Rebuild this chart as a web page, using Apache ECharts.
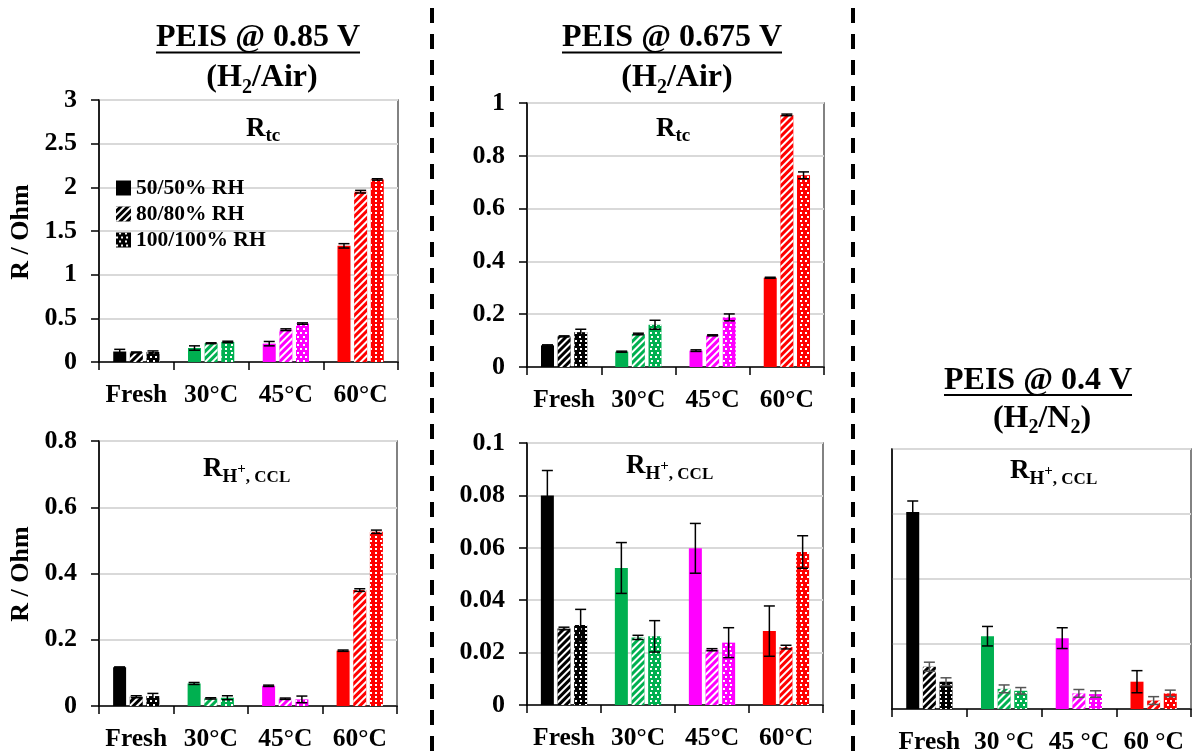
<!DOCTYPE html>
<html>
<head>
<meta charset="utf-8">
<script src="https://cdn.jsdelivr.net/npm/echarts@6/dist/echarts.min.js"></script>
<style>
html,body{margin:0;padding:0;background:#fff;}
#c{width:1192px;height:755px;}
</style>
</head>
<body>
<div id="c"></div>
<script>
// ---------- DATA ----------
const categories = ['Fresh', '30°C', '45°C', '60°C'];
const categoriesN2 = ['Fresh', '30 °C', '45 °C', '60 °C'];
const seriesNames = ['50/50% RH', '80/80% RH', '100/100% RH'];

// PEIS @ 0.85 V, R_tc
const rtc085_50 = [0.12, 0.16, 0.21, 1.33];
const rtc085_50_err = [0.025, 0.025, 0.025, 0.025];
const rtc085_80 = [0.11, 0.215, 0.37, 1.95];
const rtc085_80_err = [0.005, 0.005, 0.01, 0.015];
const rtc085_100 = [0.115, 0.23, 0.44, 2.09];
const rtc085_100_err = [0.012, 0.008, 0.008, 0.008];

// PEIS @ 0.675 V, R_tc
const rtc0675_50 = [0.082, 0.058, 0.062, 0.338];
const rtc0675_50_err = [0.002, 0.002, 0.003, 0.002];
const rtc0675_80 = [0.116, 0.125, 0.12, 0.955];
const rtc0675_80_err = [0.002, 0.003, 0.002, 0.003];
const rtc0675_100 = [0.132, 0.16, 0.188, 0.726];
const rtc0675_100_err = [0.011, 0.017, 0.013, 0.013];

// PEIS @ 0.85 V, R_H+,CCL
const rh085_50 = [0.117, 0.068, 0.061, 0.167];
const rh085_50_err = [0.001, 0.003, 0.002, 0.002];
const rh085_80 = [0.028, 0.023, 0.022, 0.35];
const rh085_80_err = [0.003, 0.002, 0.002, 0.004];
const rh085_100 = [0.03, 0.025, 0.02, 0.526];
const rh085_100_err = [0.008, 0.006, 0.01, 0.005];

// PEIS @ 0.675 V, R_H+,CCL
const rh0675_50 = [0.080, 0.0523, 0.0598, 0.0282];
const rh0675_50_err = [0.0095, 0.0097, 0.0095, 0.0096];
const rh0675_80 = [0.0292, 0.0258, 0.0211, 0.0221];
const rh0675_80_err = [0.0005, 0.0008, 0.0004, 0.0007];
const rh0675_100 = [0.0305, 0.0262, 0.0238, 0.0584];
const rh0675_100_err = [0.006, 0.006, 0.0057, 0.0062];

// PEIS @ 0.4 V (H2/N2), R_H+,CCL (unlabelled axis, gridline units)
const rh04_50 = [3.03, 1.12, 1.09, 0.42];
const rh04_50_err = [0.17, 0.15, 0.16, 0.17];
const rh04_80 = [0.65, 0.31, 0.24, 0.13];
const rh04_80_err = [0.07, 0.06, 0.06, 0.06];
const rh04_100 = [0.42, 0.28, 0.23, 0.24];
const rh04_100_err = [0.06, 0.05, 0.05, 0.05];

// ---------- STYLE ----------
const FONT = '"Liberation Serif", "Times New Roman", serif';
const catColors = ['#000000', '#00B050', '#FF00FF', '#FF0000'];
const BAR_W = 13, BAR_GAP = 0.28, STRIDE = BAR_W * (1 + BAR_GAP);
const decals = [
  null,
  {symbol: 'rect', symbolSize: 1, dashArrayX: [1, 0], dashArrayY: [2, 2.5], rotation: -Math.PI / 4, color: '#ffffff'},
  {symbol: 'rect', symbolSize: 1, dashArrayX: [[1.8, 2.7], [0, 2.25, 1.8, 0.45]], dashArrayY: [1.8, 1.6], color: '#ffffff'}
];

const panels = [
  {grid: {left: 99, top: 100, width: 299, height: 262}, max: 3, interval: 0.5, cats: categories, labels: true,
   vals: [rtc085_50, rtc085_80, rtc085_100], errs: [rtc085_50_err, rtc085_80_err, rtc085_100_err], errColors: ['#000', '#000', '#000']},
  {grid: {left: 527, top: 103, width: 297, height: 264}, max: 1, interval: 0.2, cats: categories, labels: true,
   vals: [rtc0675_50, rtc0675_80, rtc0675_100], errs: [rtc0675_50_err, rtc0675_80_err, rtc0675_100_err], errColors: ['#000', '#000', '#000']},
  {grid: {left: 99, top: 441, width: 298, height: 265}, max: 0.8, interval: 0.2, cats: categories, labels: true,
   vals: [rh085_50, rh085_80, rh085_100], errs: [rh085_50_err, rh085_80_err, rh085_100_err], errColors: ['#000', '#000', '#000']},
  {grid: {left: 527, top: 443, width: 296, height: 262}, max: 0.1, interval: 0.02, cats: categories, labels: true,
   vals: [rh0675_50, rh0675_80, rh0675_100], errs: [rh0675_50_err, rh0675_80_err, rh0675_100_err], errColors: ['#000', '#000', '#000']},
  {grid: {left: 892, top: 449, width: 299, height: 261}, max: 4, interval: 1, cats: categoriesN2, labels: false,
   vals: [rh04_50, rh04_80, rh04_100], errs: [rh04_50_err, rh04_80_err, rh04_100_err], errColors: ['#000', '#555', '#555']}
];

const grids = [], xAxes = [], yAxes = [], series = [];
panels.forEach((p, i) => {
  grids.push(Object.assign({show: true, borderColor: '#595959', borderWidth: 1.5, backgroundColor: 'transparent'}, p.grid));
  xAxes.push({
    type: 'category', gridIndex: i, data: p.cats,
    axisLine: {show: true, lineStyle: {color: '#000', width: 1.5}},
    axisTick: {show: true, length: 8, lineStyle: {color: '#000', width: 1.5}},
    axisLabel: {interval: 0, margin: 20, color: '#000', fontFamily: FONT, fontWeight: 'bold', fontSize: 25.5}
  });
  yAxes.push({
    type: 'value', gridIndex: i, min: 0, max: p.max, interval: p.interval,
    axisLine: {show: true, lineStyle: {color: '#000', width: 1.5}},
    axisTick: {show: p.labels, length: 8, lineStyle: {color: '#000', width: 1.5}},
    axisLabel: {show: p.labels, margin: 22, color: '#000', fontFamily: FONT, fontWeight: 'bold', fontSize: 26},
    splitLine: {show: true, lineStyle: {color: '#d9d9d9', width: 2}}
  });
  for (let k = 0; k < 3; k++) {
    const itemStyle = {color: '#000'};
    if (decals[k]) itemStyle.decal = decals[k];
    series.push({
      type: 'bar', name: seriesNames[k], xAxisIndex: i, yAxisIndex: i,
      barWidth: BAR_W, barGap: (BAR_GAP * 100) + '%',
      itemStyle: itemStyle,
      data: p.vals[k].map((v, j) => ({value: v, itemStyle: {color: catColors[j]}}))
    });
  }
  for (let k = 0; k < 3; k++) {
    const off = (k - 1) * STRIDE;
    const col = p.errColors[k];
    series.push({
      type: 'custom', name: 'err', xAxisIndex: i, yAxisIndex: i, z: 5, silent: true,
      data: p.vals[k].map((v, j) => [j, v, p.errs[k][j]]),
      renderItem: function (params, api) {
        const hi = api.coord([api.value(0), api.value(1) + api.value(2)]);
        const lo = api.coord([api.value(0), api.value(1) - api.value(2)]);
        const x = hi[0] + off, h = 5.5;
        const st = {stroke: col, lineWidth: 1.5};
        return {type: 'group', children: [
          {type: 'line', shape: {x1: x, y1: hi[1], x2: x, y2: lo[1]}, style: st},
          {type: 'line', shape: {x1: x - h, y1: hi[1], x2: x + h, y2: hi[1]}, style: st},
          {type: 'line', shape: {x1: x - h, y1: lo[1], x2: x + h, y2: lo[1]}, style: st}
        ]};
      }
    });
  }
});

// ---------- TEXT HELPERS ----------
const mctx = document.createElement('canvas').getContext('2d');
function tw(t, s) { mctx.font = 'bold ' + s + 'px ' + FONT; return mctx.measureText(t).width; }
// parts: [text, size, baselineShift]
function textRun(parts, x0, base, center) {
  const total = parts.reduce((a, p) => a + tw(p[0], p[1]), 0);
  let x = center ? x0 - total / 2 : x0;
  const out = [];
  parts.forEach(p => {
    out.push({type: 'text', x: x, y: base + p[2] - 0.30 * p[1], silent: true,
      style: {text: p[0], font: 'bold ' + p[1] + 'px ' + FONT, fill: '#000', align: 'left', verticalAlign: 'middle'}});
    x += tw(p[0], p[1]);
  });
  return {els: out, left: center ? x0 - total / 2 : x0, right: x};
}
const graphics = [];
function addTitle(t, cx, base, ulY) {
  const r = textRun([[t, 32, 0]], cx, base, true);
  graphics.push(...r.els);
  graphics.push({type: 'line', silent: true, shape: {x1: r.left, y1: ulY, x2: r.right, y2: ulY}, style: {stroke: '#000', lineWidth: 2}});
}
addTitle('PEIS @ 0.85 V', 258, 47.5, 52.5);
addTitle('PEIS @ 0.675 V', 672, 47.5, 52.5);
addTitle('PEIS @ 0.4 V', 1038, 390, 395);
graphics.push(...textRun([['(H', 32, 0], ['2', 20, 6], ['/Air)', 32, 0]], 262, 87.5, true).els);
graphics.push(...textRun([['(H', 32, 0], ['2', 20, 6], ['/Air)', 32, 0]], 677, 87.5, true).els);
graphics.push(...textRun([['(H', 32, 0], ['2', 20, 6], ['/N', 32, 0], ['2', 20, 6], [')', 32, 0]], 1042, 428, true).els);

graphics.push(...textRun([['R', 27, 0], ['tc', 19, 5]], 246, 137, false).els);
graphics.push(...textRun([['R', 27, 0], ['tc', 19, 5]], 656, 137, false).els);
function rhLabel(x, base) {
  graphics.push(...textRun([['R', 27, 0], ['H', 19, 6], ['+', 15, -3], [', CCL', 17, 6]], x, base, false).els);
}
rhLabel(203, 477);
rhLabel(626, 474);
rhLabel(1010, 479);

// y-axis names
[[21, 232], [21, 574]].forEach(c => {
  graphics.push({type: 'text', x: c[0], y: c[1], rotation: Math.PI / 2, silent: true,
    style: {text: 'R / Ohm', font: 'bold 26px ' + FONT, fill: '#000', align: 'center', verticalAlign: 'middle'}});
});

// dashed separators
[432, 853].forEach(x => {
  graphics.push({type: 'line', silent: true, shape: {x1: x, y1: 8, x2: x, y2: 755},
    style: {stroke: '#000', lineWidth: 4, lineDash: [15, 11]}});
});

const chart = echarts.init(document.getElementById('c'), null, {renderer: 'canvas'});
chart.setOption({
  animation: false,
  backgroundColor: '#ffffff',
  grid: grids, xAxis: xAxes, yAxis: yAxes, series: series,
  legend: {
    data: seriesNames, orient: 'vertical', left: 111, top: 172,
    itemWidth: 15, itemHeight: 15, itemGap: 4, icon: 'rect',
    textStyle: {fontFamily: FONT, fontWeight: 'bold', fontSize: 21.5, color: '#000'},
    selectedMode: false
  },
  graphic: graphics
});
</script>
</body>
</html>
